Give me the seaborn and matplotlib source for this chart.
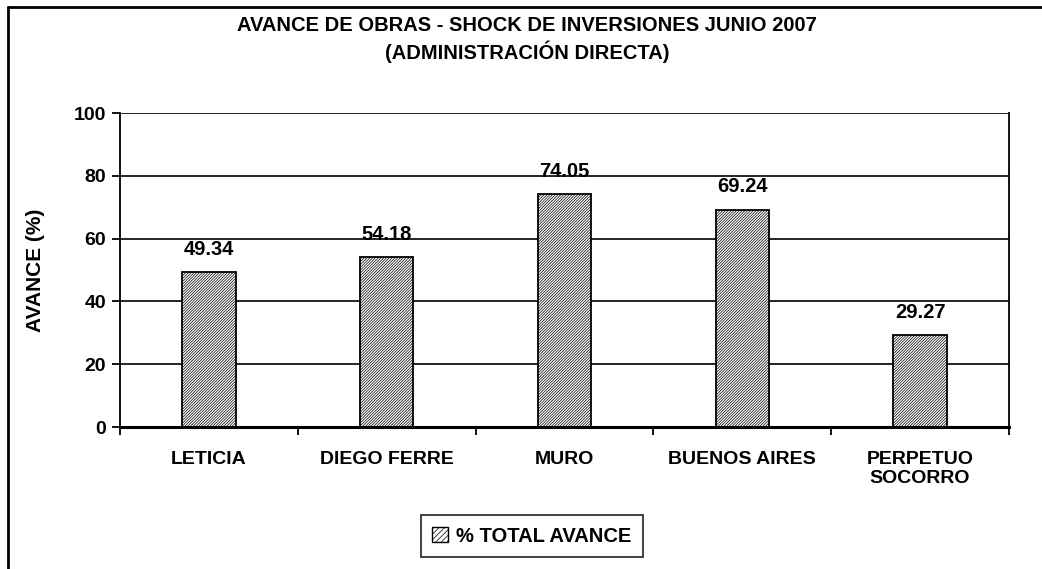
import matplotlib
matplotlib.use("Agg")
import matplotlib.pyplot as plt
import seaborn as sns
import pandas as pd
from matplotlib.lines import Line2D
from matplotlib.patches import Patch

categories = ["LETICIA", "DIEGO FERRE", "MURO", "BUENOS AIRES", "PERPETUO\nSOCORRO"]
values = [49.34, 54.18, 74.05, 69.24, 29.27]
series_name = "% TOTAL AVANCE"
title = "AVANCE DE OBRAS - SHOCK DE INVERSIONES JUNIO 2007\n(ADMINISTRACIÓN DIRECTA)"
ylabel = "AVANCE (%)"
yticks = [0, 20, 40, 60, 80, 100]

sns.set_theme(style="white")
plt.rcParams['font.family'] = ['Liberation Sans', 'DejaVu Sans']
plt.rcParams['font.weight'] = 'bold'
plt.rcParams['text.color'] = 'black'
plt.rcParams['axes.labelcolor'] = 'black'
plt.rcParams['xtick.color'] = 'black'
plt.rcParams['ytick.color'] = 'black'
plt.rcParams['hatch.linewidth'] = 0.5
plt.rcParams['hatch.color'] = 'black'

HATCH = "/" * 12
df = pd.DataFrame({"cat": categories, "val": values})

fig = plt.figure(figsize=(10.42, 5.69), dpi=100)
ax = fig.add_axes([120/1042, 1-427/569, (1009-120)/1042, (427-113)/569])

sns.barplot(data=df, x="cat", y="val", ax=ax, color="white", edgecolor="black",
            linewidth=1.3, width=0.3, hatch=HATCH, saturation=1)

ax.set_ylim(0, 100)
ax.set_xlim(-0.5, len(categories) - 0.5)
ax.set_yticks(yticks)
ax.set_yticklabels([str(t) for t in yticks], fontsize=14, fontweight='bold')
ax.yaxis.grid(True, color='black', linewidth=1.2)
ax.set_axisbelow(True)

# category boundary ticks (major) and labels (minor)
ax.set_xticks([i - 0.5 for i in range(len(categories) + 1)])
ax.set_xticklabels([])
ax.set_xticks(range(len(categories)), minor=True)
ax.set_xticklabels(categories, minor=True, fontsize=14, fontweight='bold')
ax.tick_params(axis='x', which='major', direction='out', length=6, width=1.3, color='black', bottom=True)
ax.tick_params(axis='x', which='minor', length=0, pad=17)
ax.tick_params(axis='y', direction='out', length=6, width=1.3, color='black', left=True, pad=4)

for s in ['left', 'right', 'top', 'bottom']:
    ax.spines[s].set_visible(True)
    ax.spines[s].set_color('black')
ax.spines['top'].set_visible(False)
ax.spines['left'].set_linewidth(1.3)
ax.spines['right'].set_linewidth(1.3)
ax.spines['bottom'].set_linewidth(2.2)

ax.set_xlabel("")
ax.set_ylabel(ylabel, fontsize=15, fontweight='bold', labelpad=21)

for i, v in enumerate(values):
    ax.annotate(f"{v:.2f}", xy=(i, v), xytext=(0, 12.5), textcoords='offset points',
                ha='center', va='baseline', fontsize=14.5, fontweight='bold')

fig.text(527/1042, 1-39.5/569, title, ha='center', va='center', fontsize=14.5,
         fontweight='bold', linespacing=1.3)

handle = Patch(facecolor='white', edgecolor='black', hatch="/" * 6, linewidth=1)
leg = fig.legend([handle], [series_name], loc='center', bbox_to_anchor=(532/1042, 1-536/569),
                 frameon=True, fancybox=False, shadow=False, prop={'size': 14.5, 'weight': 'bold'},
                 handlelength=0.8, handleheight=0.8, handletextpad=0.4, borderpad=0.55,
                 borderaxespad=0)
leg.get_frame().set_edgecolor('black')
leg.get_frame().set_linewidth(1.3)

# outer chart border (top and left only, as cropped)
fig.add_artist(Line2D([8/1042, 1], [1-6.5/569, 1-6.5/569], transform=fig.transFigure, color='black', linewidth=2))
fig.add_artist(Line2D([8/1042, 8/1042], [0, 1-6.5/569], transform=fig.transFigure, color='black', linewidth=2))

fig.savefig("out.png", dpi=100, facecolor='white')
